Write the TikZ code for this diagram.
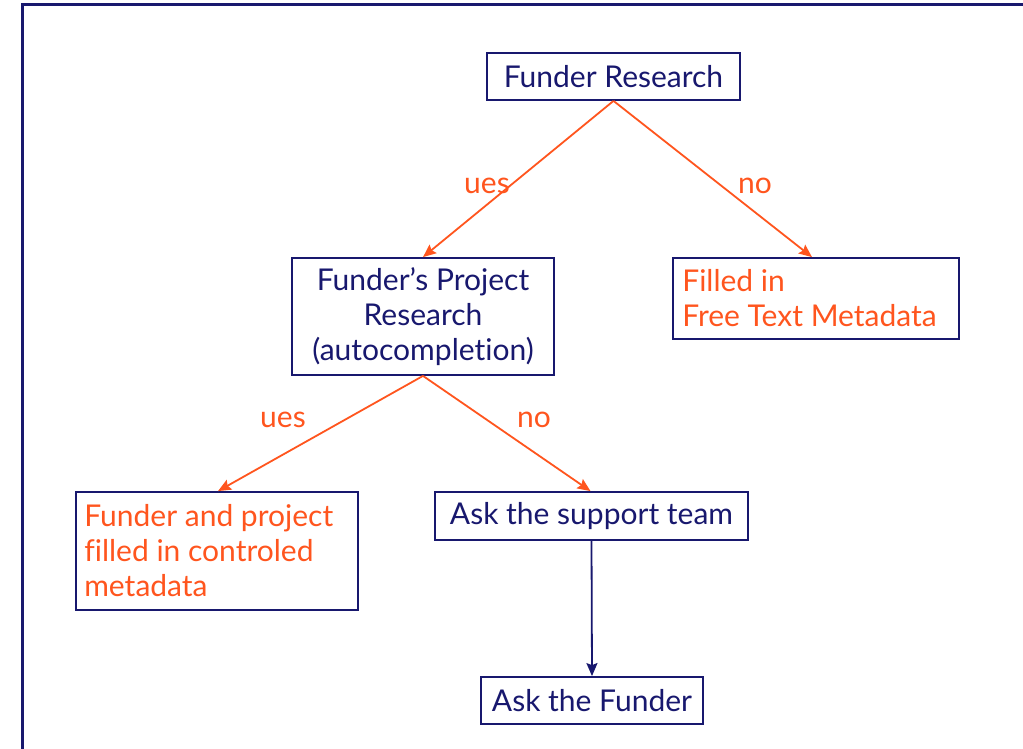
\documentclass[tikz,border=0pt]{standalone}
\usepackage{fontspec}
\setmainfont{Lato}[Ligatures={NoCommon}]
\usetikzlibrary{arrows.meta}
\definecolor{navy}{RGB}{24,24,110}
\definecolor{orng}{RGB}{255,85,30}
\begin{document}
\begin{tikzpicture}[x=1pt,y=-1pt,
  box/.style={draw=navy,line width=1.8pt,rectangle,inner sep=0pt,anchor=center},
  txt/.style={font=\fontsize{30}{35}\selectfont,inner sep=0pt},
  navytxt/.style={txt,text=navy},
  orngtxt/.style={txt,text=orng},
  oarrow/.style={draw=orng,line width=1.8pt,-{Stealth[length=13pt,width=11pt,inset=2pt]}},
  narrow/.style={draw=navy,line width=1.8pt,-{Stealth[length=13pt,width=11pt,inset=2pt]}},
  lbl/.style={txt,text=orng}]
\useasboundingbox (0,0) rectangle (1023,749);
\fill[white] (0,0) rectangle (1023,749);
\draw[navy,line width=3pt] (22,749) -- (22,5) -- (1023,5);

\node[box,minimum width=253pt,minimum height=47pt] (fr) at (613.5,76.5) {};
\node[navytxt] at (fr.center) {Funder Research};

\node[box,minimum width=262pt,minimum height=117pt] (fpr) at (423,316.5) {};
\node[navytxt,align=center] at (fpr.center) {Funder's Project\\Research\\(autocompletion)};

\node[box,minimum width=286pt,minimum height=81pt] (fi) at (816,298.5) {};
\node[orngtxt,align=left,anchor=west] at ([xshift=10pt]fi.west) {Filled in\\Free Text Metadata};

\node[box,minimum width=282pt,minimum height=118pt] (fp) at (217,551) {};
\node[orngtxt,align=left,anchor=west] at ([xshift=9pt]fp.west) {Funder and project\\filled in controled\\metadata};

\node[box,minimum width=313pt,minimum height=48pt] (ast) at (591.5,516) {};
\node[navytxt] at (ast.center) {Ask the support team};

\node[box,minimum width=222pt,minimum height=47pt] (af) at (592,700.5) {};
\node[navytxt] at (af.center) {Ask the Funder};

\draw[oarrow] (fr.south) -- (fpr.north);
\draw[oarrow] (fr.south) -- ([xshift=-4pt]fi.north);
\draw[oarrow] (fpr.south) -- ([xshift=1pt]fp.north);
\draw[oarrow] (fpr.south) -- ([xshift=-1pt]ast.north);
\draw[narrow] (ast.south) -- (af.north);

\node[lbl] (l1) at (487,186) {ues};
\node[lbl] (l2) at (755,186) {no};
\node[lbl] (l3) at (283,420) {ues};
\node[lbl] (l4) at (534,420) {no};
\end{tikzpicture}
\end{document}
